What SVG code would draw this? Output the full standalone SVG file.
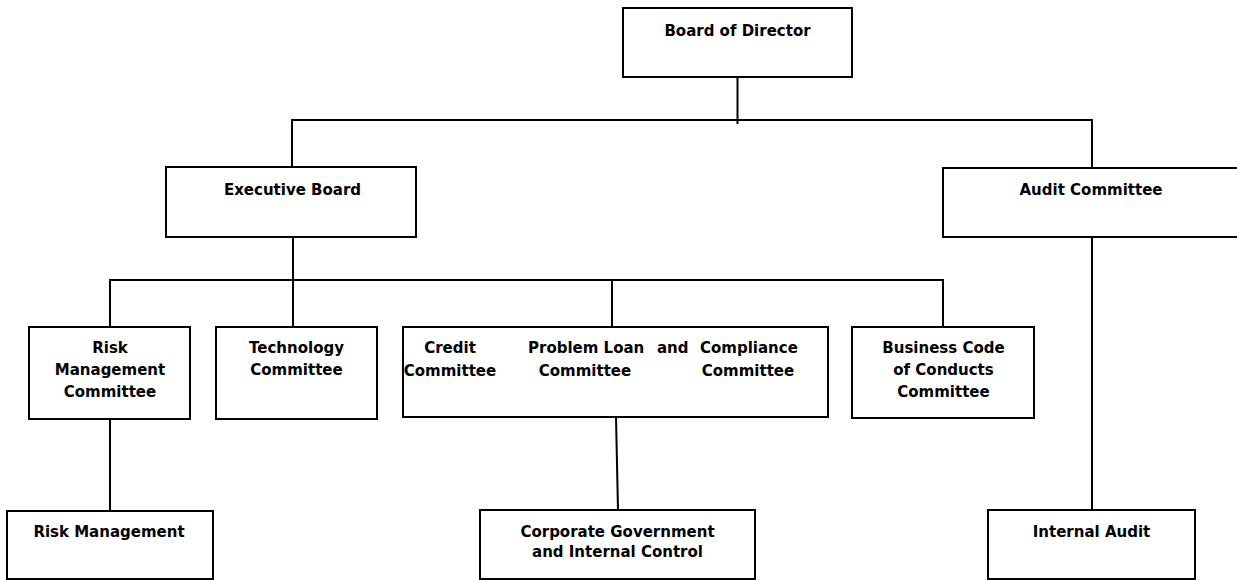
<svg xmlns="http://www.w3.org/2000/svg" width="1237" height="580" viewBox="0 0 1237 580">
<style>
.box{fill:#fff;stroke:#000;stroke-width:2}
.ln{fill:none;stroke:#000;stroke-width:2}
text{font-family:"DejaVu Sans",Verdana,sans-serif;font-weight:bold;font-size:15px;fill:#000}
.c{text-anchor:middle}
</style>
<rect width="1237" height="580" fill="#fff"/>
<g id="connectors">
<path class="ln" d="M737.5 77V124"/>
<path class="ln" d="M292 167V120H1092V168"/>
<path class="ln" d="M293 237V327"/>
<path class="ln" d="M110 327V280H943V327"/>
<path class="ln" d="M612 280V327"/>
<path class="ln" d="M110 419V511"/>
<path class="ln" d="M616 417L618 510"/>
<path class="ln" d="M1092 237V510"/>
</g>
<g id="board">
<rect class="box" x="623" y="8" width="229" height="69"/>
<text class="c" x="737.5" y="36">Board of Director</text>
</g>
<g id="executive">
<rect class="box" x="166" y="167" width="250" height="70"/>
<text class="c" x="292.5" y="195">Executive Board</text>
</g>
<g id="audit-committee">
<rect class="box" x="943" y="168" width="300" height="69"/>
<text class="c" x="1091" y="195">Audit Committee</text>
</g>
<g id="risk-committee">
<rect class="box" x="29" y="327" width="161" height="92"/>
<text class="c" x="110" y="353">Risk</text>
<text class="c" x="110" y="375">Management</text>
<text class="c" x="110" y="397">Committee</text>
</g>
<g id="tech-committee">
<rect class="box" x="216" y="327" width="161" height="92"/>
<text class="c" x="296.5" y="353">Technology</text>
<text class="c" x="296.5" y="375">Committee</text>
</g>
<g id="credit-committees">
<rect class="box" x="403" y="327" width="425" height="90"/>
<text class="c" x="450" y="353">Credit</text>
<text class="c" x="450" y="376">Committee</text>
<text x="528" y="353">Problem Loan</text>
<text x="657" y="353">and</text>
<text x="700" y="353">Compliance</text>
<text class="c" x="585" y="376">Committee</text>
<text class="c" x="748" y="376">Committee</text>
</g>
<g id="business-code">
<rect class="box" x="852" y="327" width="182" height="91"/>
<text class="c" x="943.5" y="353">Business Code</text>
<text class="c" x="943.5" y="375">of Conducts</text>
<text class="c" x="943.5" y="397">Committee</text>
</g>
<g id="risk-management">
<rect class="box" x="7" y="511" width="206" height="68"/>
<text class="c" x="109" y="537">Risk Management</text>
</g>
<g id="corporate">
<rect class="box" x="480" y="510" width="275" height="69"/>
<text class="c" x="617.5" y="537">Corporate Government</text>
<text class="c" x="617.5" y="557">and Internal Control</text>
</g>
<g id="internal-audit">
<rect class="box" x="988" y="510" width="207" height="69"/>
<text class="c" x="1091.5" y="537">Internal Audit</text>
</g>
</svg>
